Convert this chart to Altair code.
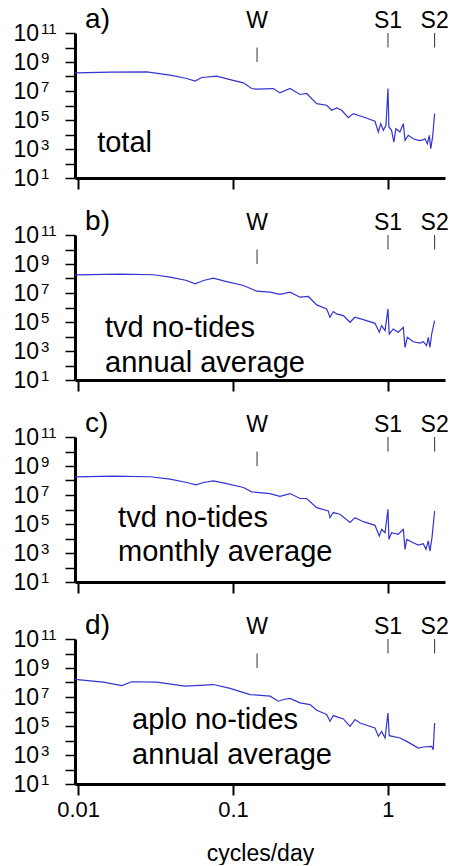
import altair as alt
import pandas as pd

FONT = "Liberation Sans"

# ---- data: log10(frequency, cycles/day) and log10(power) ----
A_LOGF = [-2.02, -1.793, -1.557, -1.406, -1.299, -1.245, -1.202, -1.105, -1.019, -0.933,
          -0.880, -0.847, -0.740, -0.697, -0.632, -0.568, -0.525, -0.460, -0.396, -0.363,
          -0.331, -0.299, -0.256, -0.224, -0.159, -0.084, -0.062, -0.047, -0.030, -0.013,
          0.000, 0.006, 0.023, 0.038, 0.051, 0.077, 0.099, 0.110, 0.131, 0.163,
          0.196, 0.217, 0.239, 0.254, 0.267, 0.276, 0.288, 0.301]
A_LOGP = [8.255, 8.30, 8.32, 8.09, 7.86, 7.68, 7.93, 8.02, 7.79, 7.56,
          7.17, 7.125, 7.17, 6.87, 7.17, 6.76, 6.83, 6.13, 6.02, 5.67,
          5.83, 5.67, 5.16, 5.44, 5.21, 4.91, 4.17, 4.75, 4.29, 4.63,
          7.17, 4.52, 4.29, 3.48, 4.40, 4.17, 4.75, 3.60, 3.94, 3.71,
          3.60, 3.60, 3.71, 3.37, 3.94, 3.02, 3.83, 5.44]

B_LOGF = [-2.02, -1.729, -1.514, -1.406, -1.299, -1.245, -1.191, -1.127, -1.041, -0.933,
          -0.847, -0.761, -0.697, -0.632, -0.568, -0.514, -0.460, -0.396, -0.374, -0.353,
          -0.331, -0.288, -0.245, -0.213, -0.159, -0.084, -0.056, -0.041, -0.019, 0.000,
          0.008, 0.034, 0.066, 0.099, 0.110, 0.125, 0.163, 0.206, 0.228, 0.249,
          0.260, 0.271, 0.282, 0.301]
B_LOGP = [8.255, 8.30, 8.26, 8.09, 7.86, 7.63, 7.86, 8.02, 7.79, 7.52,
          7.125, 7.06, 6.90, 7.06, 6.71, 6.76, 6.18, 5.90, 5.33, 5.72,
          5.56, 5.44, 4.98, 5.33, 5.16, 4.91, 4.29, 4.75, 4.40, 5.90,
          4.17, 4.52, 4.29, 4.63, 3.25, 3.94, 3.64, 3.55, 3.64, 3.37,
          3.94, 3.25, 4.17, 5.10]

C_LOGF = [-2.02, -1.772, -1.535, -1.406, -1.299, -1.239, -1.191, -1.127, -1.041, -0.933,
          -0.880, -0.761, -0.697, -0.632, -0.568, -0.525, -0.460, -0.385, -0.374, -0.353,
          -0.310, -0.245, -0.213, -0.159, -0.084, -0.056, -0.041, -0.019, 0.000, 0.006,
          0.023, 0.066, 0.099, 0.110, 0.121, 0.163, 0.196, 0.228, 0.245, 0.260,
          0.271, 0.284, 0.301]
C_LOGP = [8.255, 8.30, 8.26, 8.09, 7.86, 7.70, 7.86, 7.98, 7.79, 7.52,
          7.22, 7.10, 6.90, 7.10, 6.76, 6.76, 6.13, 5.90, 5.44, 5.79,
          5.67, 5.10, 5.44, 5.16, 4.91, 4.17, 4.63, 4.40, 6.02, 3.94,
          4.40, 4.29, 4.63, 3.25, 3.94, 3.71, 3.55, 3.64, 3.25, 3.83,
          3.13, 4.06, 5.90]

D_LOGF = [-2.02, -1.837, -1.718, -1.654, -1.492, -1.310, -1.127, -1.019, -0.890, -0.761,
          -0.708, -0.675, -0.632, -0.568, -0.503, -0.460, -0.396, -0.374, -0.353, -0.288,
          -0.245, -0.213, -0.181, -0.084, -0.062, -0.041, -0.019, 0.000, 0.008, 0.030,
          0.077, 0.121, 0.196, 0.228, 0.282, 0.292, 0.301]
D_LOGP = [8.21, 8.02, 7.79, 8.05, 8.02, 7.75, 7.86, 7.59, 7.17, 7.06,
          6.71, 6.83, 6.90, 6.60, 6.48, 6.09, 5.79, 5.33, 5.72, 5.49,
          4.98, 5.44, 5.21, 4.86, 4.29, 4.63, 4.17, 5.90, 4.33, 4.29,
          4.17, 3.94, 3.48, 3.55, 3.60, 3.37, 5.21]

PANEL_LETTERS = ["a)", "b)", "c)", "d)"]
PANEL_TEXT = [["total"],
              ["tvd no-tides", "annual average"],
              ["tvd no-tides", "monthly average"],
              ["aplo no-tides", "annual average"]]
# position of the panel text (log10 frequency of left edge, log10 power of each baseline)
PANEL_TEXT_LOGF = [-1.877, -1.826, -1.742, -1.652]
PANEL_TEXT_LOGP = [[2.76], [3.94, 1.52], [4.77, 2.42], [4.77, 2.35]]

MARK_LABELS = ["W", "S1", "S2"]
MARK_FREQ = [1 / 7, 1.0, 2.0]
MARK_TOP_LOGP = [10, 11, 11]
MARK_BOT_LOGP = [9, 10, 10]

Y_EXPONENTS = [11, 9, 7, 5, 3, 1]
Y_TICK_EXPONENTS = list(range(1, 12))
X_TICKS = [0.01, 0.1, 1]
LETTER_LOGF = -1.955

SERIES = [(A_LOGF, A_LOGP), (B_LOGF, B_LOGP), (C_LOGF, C_LOGP), (D_LOGF, D_LOGP)]

W, H = 370, 145
X_DOMAIN = [10 ** -2.02, 10 ** 0.368]
Y_DOMAIN = [1e1, 1e11]
LINE_COLOR = "#3434d2"


def panel(i):
    last = i == 3
    logf, logp = SERIES[i]
    assert len(logf) == len(logp)
    df = pd.DataFrame({"freq": [10 ** v for v in logf], "power": [10 ** v for v in logp]})

    xaxis = dict(values=X_TICKS, tickSize=11, tickWidth=2, domainWidth=3,
                 grid=False, labels=last, format="~g", labelFontSize=22,
                 labelPadding=4, labelFont=FONT, title=None)
    if last:
        xaxis.update(title="cycles/day", titleFontSize=23, titleFont=FONT,
                     titleFontWeight="normal", titlePadding=22)
    x_enc = alt.X("freq:Q", scale=alt.Scale(type="log", domain=X_DOMAIN, nice=False),
                  axis=alt.Axis(**xaxis))
    y_enc = alt.Y("power:Q", scale=alt.Scale(type="log", domain=Y_DOMAIN, nice=False),
                  axis=alt.Axis(values=[10 ** k for k in Y_TICK_EXPONENTS], labels=False,
                                tickSize=10, tickWidth=1.5, domainWidth=3, grid=False,
                                title=None))

    line = alt.Chart(df).mark_line(color=LINE_COLOR, strokeWidth=1.2, clip=True).encode(
        x=x_enc, y=y_enc)

    # y tick labels "10" with superscript exponent
    ylab = pd.DataFrame({"power": [10 ** e for e in Y_EXPONENTS],
                         "base": ["10"] * len(Y_EXPONENTS),
                         "exp": [str(e) for e in Y_EXPONENTS]})
    ybase = alt.Chart(ylab).mark_text(align="right", baseline="alphabetic", dy=8,
                                      fontSize=23, font=FONT, color="black").encode(
        x=alt.value(-36), y=y_enc, text="base:N")
    yexp = alt.Chart(ylab).mark_text(align="left", baseline="alphabetic", dy=1,
                                     fontSize=15, font=FONT, color="black").encode(
        x=alt.value(-34), y=y_enc, text="exp:N")

    # marker rules and labels
    mk = pd.DataFrame({"freq": MARK_FREQ, "label": MARK_LABELS,
                       "power": [10 ** v for v in MARK_TOP_LOGP],
                       "power2": [10 ** v for v in MARK_BOT_LOGP]})
    rules = alt.Chart(mk).mark_rule(color="#333333", strokeWidth=1).encode(
        x=x_enc, y=y_enc, y2="power2:Q")
    mlabels = alt.Chart(mk).mark_text(align="center", baseline="alphabetic", fontSize=23,
                                      font=FONT, color="black").encode(
        x=x_enc, y=alt.value(-5), text="label:N")

    # panel letter
    let = pd.DataFrame({"freq": [10 ** LETTER_LOGF], "label": [PANEL_LETTERS[i]]})
    letter = alt.Chart(let).mark_text(align="left", baseline="alphabetic", fontSize=28,
                                      font=FONT, color="black").encode(
        x=x_enc, y=alt.value(-5), text="label:N")

    # panel description text
    pt = pd.DataFrame({"freq": [10 ** PANEL_TEXT_LOGF[i]] * len(PANEL_TEXT[i]),
                       "power": [10 ** v for v in PANEL_TEXT_LOGP[i]],
                       "label": PANEL_TEXT[i]})
    ptext = alt.Chart(pt).mark_text(align="left", baseline="alphabetic", fontSize=29,
                                    font=FONT, color="black").encode(
        x=x_enc, y=y_enc, text="label:N")

    return alt.layer(line, rules, mlabels, letter, ptext, ybase, yexp).properties(
        width=W, height=H)


chart = alt.vconcat(*[panel(i) for i in range(4)], spacing=57, bounds="flush").properties(
    padding={"left": 13, "top": 6, "right": 0, "bottom": 0}
).configure_view(stroke=None).configure_axis(
    domainColor="black", tickColor="black", labelColor="black", titleColor="black"
)

chart.save("out.html", embed_options={"renderer": "svg", "actions": False})
